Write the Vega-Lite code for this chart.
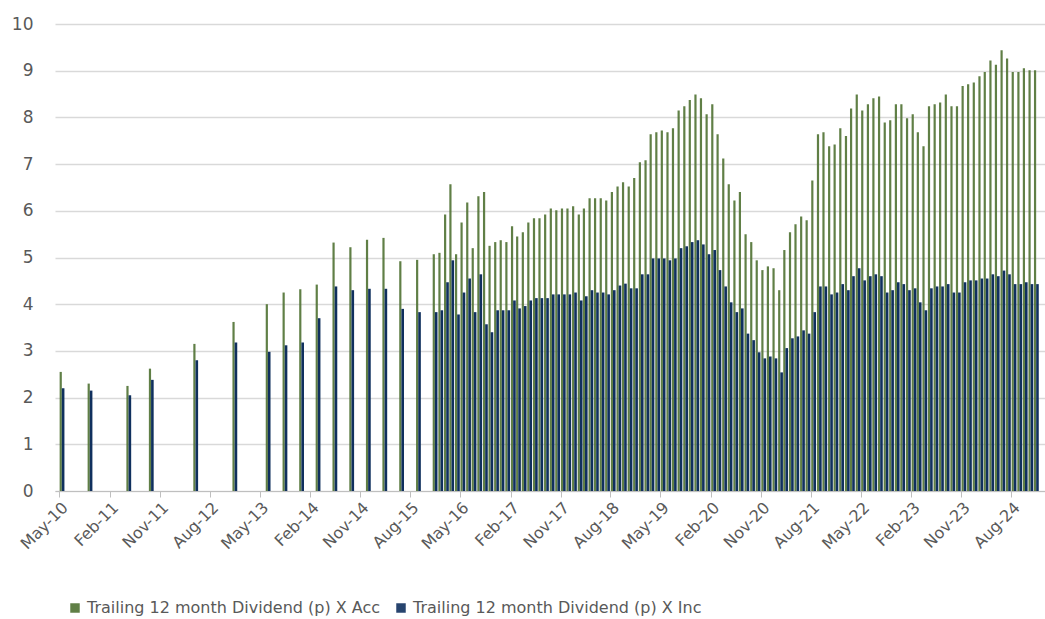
{
  "$schema": "https://vega.github.io/schema/vega-lite/v6.json",
  "autosize": "none",
  "padding": {"left": 55, "top": 24, "right": 0, "bottom": 128},
  "width": 990,
  "height": 467,
  "background": "white",
  "data": {
    "values": [
      {"d": "2010-05-15", "Acc": 2.55, "Inc": 2.2},
      {"d": "2010-10-15", "Acc": 2.3, "Inc": 2.15},
      {"d": "2011-05-15", "Acc": 2.25, "Inc": 2.05},
      {"d": "2011-09-15", "Acc": 2.62, "Inc": 2.38},
      {"d": "2012-05-15", "Acc": 3.15, "Inc": 2.8},
      {"d": "2012-12-15", "Acc": 3.62, "Inc": 3.18},
      {"d": "2013-06-15", "Acc": 4.0, "Inc": 2.98},
      {"d": "2013-09-15", "Acc": 4.25, "Inc": 3.12},
      {"d": "2013-12-15", "Acc": 4.32, "Inc": 3.18},
      {"d": "2014-03-15", "Acc": 4.42, "Inc": 3.7},
      {"d": "2014-06-15", "Acc": 5.32, "Inc": 4.38},
      {"d": "2014-09-15", "Acc": 5.22, "Inc": 4.3},
      {"d": "2014-12-15", "Acc": 5.38, "Inc": 4.33},
      {"d": "2015-03-15", "Acc": 5.42, "Inc": 4.33},
      {"d": "2015-06-15", "Acc": 4.92, "Inc": 3.9},
      {"d": "2015-09-15", "Acc": 4.95, "Inc": 3.83},
      {"d": "2015-12-15", "Acc": 5.07, "Inc": 3.83},
      {"d": "2016-01-15", "Acc": 5.10, "Inc": 3.87},
      {"d": "2016-02-15", "Acc": 5.92, "Inc": 4.47},
      {"d": "2016-03-15", "Acc": 6.57, "Inc": 4.94},
      {"d": "2016-04-15", "Acc": 5.07, "Inc": 3.78},
      {"d": "2016-05-15", "Acc": 5.75, "Inc": 4.25},
      {"d": "2016-06-15", "Acc": 6.18, "Inc": 4.55},
      {"d": "2016-07-15", "Acc": 5.20, "Inc": 3.83},
      {"d": "2016-08-15", "Acc": 6.31, "Inc": 4.64},
      {"d": "2016-09-15", "Acc": 6.40, "Inc": 3.57},
      {"d": "2016-10-15", "Acc": 5.25, "Inc": 3.40},
      {"d": "2016-11-15", "Acc": 5.33, "Inc": 3.87},
      {"d": "2016-12-15", "Acc": 5.37, "Inc": 3.87},
      {"d": "2017-01-15", "Acc": 5.33, "Inc": 3.87},
      {"d": "2017-02-15", "Acc": 5.67, "Inc": 4.08},
      {"d": "2017-03-15", "Acc": 5.45, "Inc": 3.91},
      {"d": "2017-04-15", "Acc": 5.54, "Inc": 3.96},
      {"d": "2017-05-15", "Acc": 5.75, "Inc": 4.08},
      {"d": "2017-06-15", "Acc": 5.84, "Inc": 4.13},
      {"d": "2017-07-15", "Acc": 5.84, "Inc": 4.13},
      {"d": "2017-08-15", "Acc": 5.92, "Inc": 4.13},
      {"d": "2017-09-15", "Acc": 6.05, "Inc": 4.21},
      {"d": "2017-10-15", "Acc": 6.01, "Inc": 4.21},
      {"d": "2017-11-15", "Acc": 6.05, "Inc": 4.21},
      {"d": "2017-12-15", "Acc": 6.05, "Inc": 4.21},
      {"d": "2018-01-15", "Acc": 6.10, "Inc": 4.25},
      {"d": "2018-02-15", "Acc": 5.92, "Inc": 4.08},
      {"d": "2018-03-15", "Acc": 6.05, "Inc": 4.17},
      {"d": "2018-04-15", "Acc": 6.27, "Inc": 4.30},
      {"d": "2018-05-15", "Acc": 6.27, "Inc": 4.25},
      {"d": "2018-06-15", "Acc": 6.27, "Inc": 4.25},
      {"d": "2018-07-15", "Acc": 6.22, "Inc": 4.21},
      {"d": "2018-08-15", "Acc": 6.40, "Inc": 4.30},
      {"d": "2018-09-15", "Acc": 6.52, "Inc": 4.40},
      {"d": "2018-10-15", "Acc": 6.61, "Inc": 4.44},
      {"d": "2018-11-15", "Acc": 6.52, "Inc": 4.34},
      {"d": "2018-12-15", "Acc": 6.70, "Inc": 4.34},
      {"d": "2019-01-15", "Acc": 7.04, "Inc": 4.64},
      {"d": "2019-02-15", "Acc": 7.08, "Inc": 4.64},
      {"d": "2019-03-15", "Acc": 7.64, "Inc": 4.98},
      {"d": "2019-04-15", "Acc": 7.68, "Inc": 4.98},
      {"d": "2019-05-15", "Acc": 7.72, "Inc": 4.98},
      {"d": "2019-06-15", "Acc": 7.68, "Inc": 4.94},
      {"d": "2019-07-15", "Acc": 7.77, "Inc": 4.98},
      {"d": "2019-08-15", "Acc": 8.15, "Inc": 5.20},
      {"d": "2019-09-15", "Acc": 8.24, "Inc": 5.24},
      {"d": "2019-10-15", "Acc": 8.37, "Inc": 5.33},
      {"d": "2019-11-15", "Acc": 8.49, "Inc": 5.37},
      {"d": "2019-12-15", "Acc": 8.41, "Inc": 5.28},
      {"d": "2020-01-15", "Acc": 8.07, "Inc": 5.07},
      {"d": "2020-02-15", "Acc": 8.28, "Inc": 5.16},
      {"d": "2020-03-15", "Acc": 7.64, "Inc": 4.73},
      {"d": "2020-04-15", "Acc": 7.12, "Inc": 4.38},
      {"d": "2020-05-15", "Acc": 6.57, "Inc": 4.04},
      {"d": "2020-06-15", "Acc": 6.22, "Inc": 3.83},
      {"d": "2020-07-15", "Acc": 6.40, "Inc": 3.91},
      {"d": "2020-08-15", "Acc": 5.50, "Inc": 3.37},
      {"d": "2020-09-15", "Acc": 5.33, "Inc": 3.23},
      {"d": "2020-10-15", "Acc": 4.94, "Inc": 2.97},
      {"d": "2020-11-15", "Acc": 4.73, "Inc": 2.84},
      {"d": "2020-12-15", "Acc": 4.81, "Inc": 2.88},
      {"d": "2021-01-15", "Acc": 4.77, "Inc": 2.84},
      {"d": "2021-02-15", "Acc": 4.30, "Inc": 2.54},
      {"d": "2021-03-15", "Acc": 5.16, "Inc": 3.06},
      {"d": "2021-04-15", "Acc": 5.54, "Inc": 3.27},
      {"d": "2021-05-15", "Acc": 5.71, "Inc": 3.31},
      {"d": "2021-06-15", "Acc": 5.88, "Inc": 3.44},
      {"d": "2021-07-15", "Acc": 5.80, "Inc": 3.37},
      {"d": "2021-08-15", "Acc": 6.65, "Inc": 3.83},
      {"d": "2021-09-15", "Acc": 7.64, "Inc": 4.38},
      {"d": "2021-10-15", "Acc": 7.68, "Inc": 4.38},
      {"d": "2021-11-15", "Acc": 7.38, "Inc": 4.21},
      {"d": "2021-12-15", "Acc": 7.42, "Inc": 4.25},
      {"d": "2022-01-15", "Acc": 7.77, "Inc": 4.43},
      {"d": "2022-02-15", "Acc": 7.60, "Inc": 4.30},
      {"d": "2022-03-15", "Acc": 8.19, "Inc": 4.60},
      {"d": "2022-04-15", "Acc": 8.49, "Inc": 4.77},
      {"d": "2022-05-15", "Acc": 8.15, "Inc": 4.51},
      {"d": "2022-06-15", "Acc": 8.28, "Inc": 4.60},
      {"d": "2022-07-15", "Acc": 8.41, "Inc": 4.64},
      {"d": "2022-08-15", "Acc": 8.45, "Inc": 4.60},
      {"d": "2022-09-15", "Acc": 7.89, "Inc": 4.25},
      {"d": "2022-10-15", "Acc": 7.94, "Inc": 4.30},
      {"d": "2022-11-15", "Acc": 8.28, "Inc": 4.47},
      {"d": "2022-12-15", "Acc": 8.28, "Inc": 4.43},
      {"d": "2023-01-15", "Acc": 7.98, "Inc": 4.30},
      {"d": "2023-02-15", "Acc": 8.07, "Inc": 4.34},
      {"d": "2023-03-15", "Acc": 7.68, "Inc": 4.04},
      {"d": "2023-04-15", "Acc": 7.38, "Inc": 3.87},
      {"d": "2023-05-15", "Acc": 8.24, "Inc": 4.34},
      {"d": "2023-06-15", "Acc": 8.28, "Inc": 4.38},
      {"d": "2023-07-15", "Acc": 8.32, "Inc": 4.38},
      {"d": "2023-08-15", "Acc": 8.49, "Inc": 4.43},
      {"d": "2023-09-15", "Acc": 8.24, "Inc": 4.25},
      {"d": "2023-10-15", "Acc": 8.24, "Inc": 4.25},
      {"d": "2023-11-15", "Acc": 8.67, "Inc": 4.47},
      {"d": "2023-12-15", "Acc": 8.71, "Inc": 4.51},
      {"d": "2024-01-15", "Acc": 8.75, "Inc": 4.51},
      {"d": "2024-02-15", "Acc": 8.88, "Inc": 4.55},
      {"d": "2024-03-15", "Acc": 8.97, "Inc": 4.55},
      {"d": "2024-04-15", "Acc": 9.22, "Inc": 4.64},
      {"d": "2024-05-15", "Acc": 9.13, "Inc": 4.60},
      {"d": "2024-06-15", "Acc": 9.44, "Inc": 4.72},
      {"d": "2024-07-15", "Acc": 9.26, "Inc": 4.64},
      {"d": "2024-08-15", "Acc": 8.97, "Inc": 4.43},
      {"d": "2024-09-15", "Acc": 8.97, "Inc": 4.43},
      {"d": "2024-10-15", "Acc": 9.05, "Inc": 4.47},
      {"d": "2024-11-15", "Acc": 9.01, "Inc": 4.43},
      {"d": "2024-12-15", "Acc": 9.01, "Inc": 4.43}
    ]
  },
  "transform": [
    {"fold": ["Acc", "Inc"], "as": ["series", "value"]}
  ],
  "encoding": {
    "x": {
      "field": "d",
      "type": "temporal",
      "title": null,
      "scale": {"domain": ["2010-05-05", "2025-01-05"]},
      "axis": {
        "values": ["2010-05-01", "2011-02-01", "2011-11-01", "2012-08-01", "2013-05-01", "2014-02-01", "2014-11-01", "2015-08-01", "2016-05-01", "2017-02-01", "2017-11-01", "2018-08-01", "2019-05-01", "2020-02-01", "2020-11-01", "2021-08-01", "2022-05-01", "2023-02-01", "2023-11-01", "2024-08-01"],
        "format": "%b-%y",
        "labelAngle": -45,
        "labelAlign": "right",
        "labelBaseline": "top",
        "labelOverlap": false,
        "labelFontSize": 16,
        "labelColor": "#595959",
        "labelFont": "DejaVu Sans",
        "domainColor": "#bfbfbf",
        "tickColor": "#bfbfbf",
        "tickSize": 6,
        "grid": false,
        "labelPadding": 2
      }
    },
    "y": {
      "field": "value",
      "type": "quantitative",
      "title": null,
      "scale": {"domain": [0, 10]},
      "axis": {
        "values": [0, 1, 2, 3, 4, 5, 6, 7, 8, 9, 10],
        "labelFontSize": 17,
        "labelColor": "#595959",
        "labelFont": "DejaVu Sans",
        "labelPadding": 22,
        "domain": false,
        "ticks": false,
        "gridColor": "#d9d9d9",
        "gridWidth": 1.5
      }
    },
    "color": {
      "field": "series",
      "type": "nominal",
      "scale": {"domain": ["Acc", "Inc"], "range": ["#4f7132", "#10305e"]},
      "legend": {
        "orient": "none",
        "legendX": 12,
        "legendY": 576,
        "direction": "horizontal",
        "title": null,
        "symbolType": "square",
        "symbolSize": 90,
        "symbolStrokeWidth": 0,
        "labelFontSize": 16,
        "labelLimit": 500,
        "labelColor": "#595959",
        "labelFont": "DejaVu Sans",
        "columnPadding": 12,
        "labelExpr": "'Trailing 12 month Dividend (p) X ' + datum.label"
      }
    }
  },
  "layer": [
    {
      "transform": [{"filter": "datum.series == 'Acc'"}],
      "mark": {"type": "bar", "width": 2.2, "xOffset": -1.1, "opacity": 0.9}
    },
    {
      "transform": [{"filter": "datum.series == 'Inc'"}],
      "mark": {"type": "bar", "width": 2.6, "xOffset": 1.3}
    }
  ],
  "config": {"view": {"stroke": null}}
}
